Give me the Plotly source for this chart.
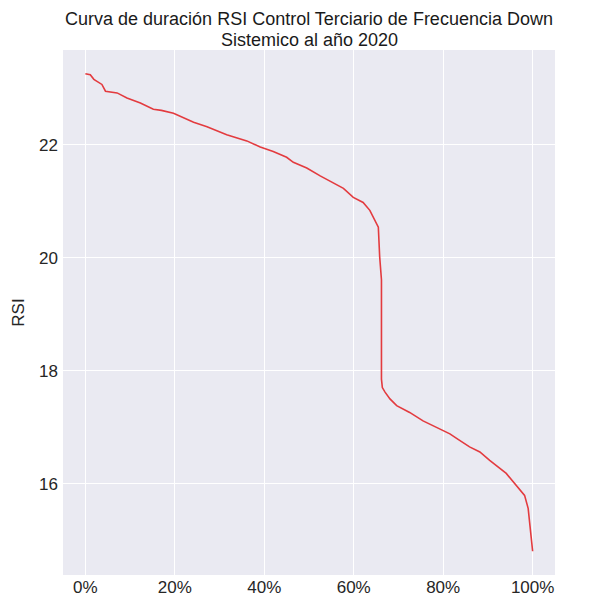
import plotly.graph_objects as go

pct = [0, 1.1, 1.9, 3.0, 3.7, 4.5, 7.1, 9.3, 12.3, 15.2, 17.0, 19.7, 24.2, 27.2, 31.6, 36.1,
       39.1, 42.0, 45.0, 46.5, 49.5, 52.5, 55.4, 57.7, 59.9, 62.1, 63.6, 64.7, 65.5, 65.8, 66.2,
       66.2, 66.4, 67.0, 68.1, 69.6, 72.5, 75.5, 78.5, 81.5, 83.0, 85.9, 88.2, 90.4, 94.1, 96.7,
       98.2, 99.0, 99.4, 100]
rsi = [23.26, 23.24, 23.16, 23.10, 23.07, 22.95, 22.92, 22.83, 22.74, 22.63, 22.61, 22.56, 22.40,
       22.32, 22.18, 22.07, 21.96, 21.88, 21.78, 21.69, 21.59, 21.45, 21.32, 21.23, 21.07, 20.98,
       20.84, 20.66, 20.54, 20.02, 19.61, 17.85, 17.70, 17.62, 17.50, 17.38, 17.26, 17.11, 17.00,
       16.88, 16.80, 16.65, 16.56, 16.41, 16.18, 15.94, 15.79, 15.56, 15.21, 14.80]

x_ticks = [0, 20, 40, 60, 80, 100]
y_ticks = [16, 18, 20, 22]

title_line1 = "Curva de duración RSI Control Terciario de Frecuencia Down"
title_line2 = "Sistemico al año 2020"

W, H = 582, 588
fig = go.Figure()
fig.add_trace(go.Scatter(x=pct, y=rsi, mode="lines",
                         line=dict(color="#e33b3f", width=1.6), showlegend=False))

font = "Liberation Sans, Arial, sans-serif"
tfont = dict(family=font, size=18, color="#1a1a1a")
fig.update_layout(
    width=W, height=H,
    margin=dict(l=55, r=35, t=42, b=21, autoexpand=False),
    paper_bgcolor="white", plot_bgcolor="#EAEAF2",
    font=dict(family=font, size=17, color="#262626"),
    title=dict(text=title_line1, x=0.5, xref="paper", xanchor="center",
               y=1 - 11 / H, yanchor="middle", font=tfont),
    annotations=[dict(text=title_line2, x=0.5, xref="paper", xanchor="center",
                      y=1 + 9.5 / 525, yref="paper", yanchor="middle",
                      showarrow=False, font=tfont)],
)
fig.update_xaxes(range=[-5, 105], tickvals=x_ticks, ticktext=[f"{v}%" for v in x_ticks],
                 showgrid=True, gridcolor="white", gridwidth=1.3, zeroline=False,
                 showline=False, ticks="", tickfont=dict(size=17), automargin=False)
fig.update_yaxes(range=[14.38, 23.68], tickvals=y_ticks,
                 showgrid=True, gridcolor="white", gridwidth=1.3, zeroline=False,
                 showline=False, ticks="", tickfont=dict(size=17), automargin=False,
                 ticklabelstandoff=4,
                 title=dict(text="RSI", font=dict(size=17), standoff=10))

fig.write_html("out.html")
